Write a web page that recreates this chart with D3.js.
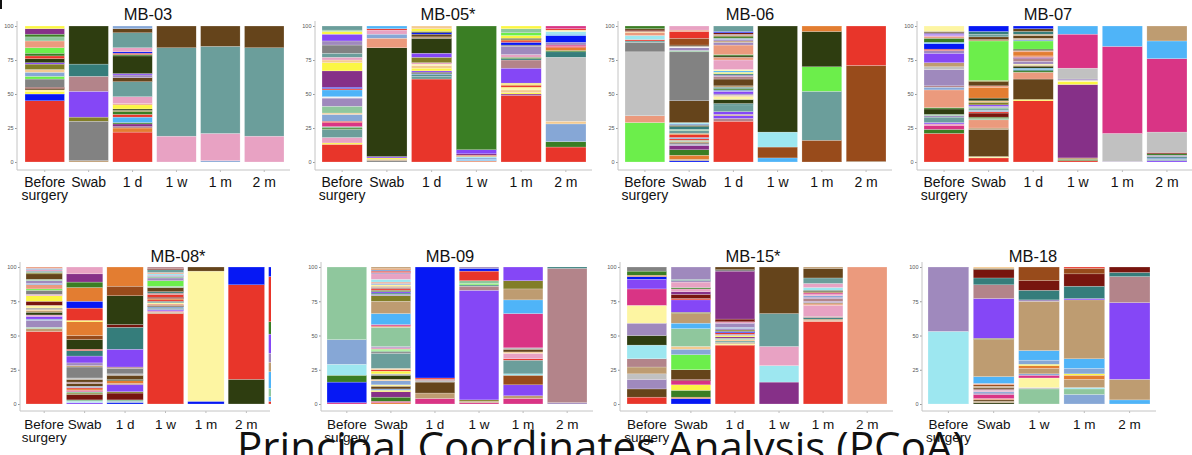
<!DOCTYPE html>
<html>
<head>
<meta charset="utf-8">
<script src="https://cdn.jsdelivr.net/npm/d3@7"></script>
<style>
  body { margin: 0; background: #fff; }
  svg { display: block; }
</style>
</head>
<body>
<div id="chart"></div>
<script>
// ---- data: each bar is "taxonColour upperBound, ..." from bottom (0) to top (100)
const titles = ["MB-03", "MB-05*", "MB-06", "MB-07", "MB-08*", "MB-09", "MB-15*", "MB-18"];
const yTicks = [0, 25, 50, 75, 100];
const cats = ["Before surgery", "Swab", "1 d", "1 w", "1 m", "2 m"];
const cats08 = ["Before surgery", "Swab", "1 d", "1 w", "1 m", "2 m", ""];
const cats18 = ["Before surgery", "Swab", "1 w", "1 m", "2 m"];

const mb03 = [
  "red 45, blue 50, yellow 52, paleyellow 53, brown 54, maroon 55, gray 61, lime 63, steel 66, peach 68, olive 72, purple 73, darkolive 76, red 78, green 80, lime 84, salmon 89, mint 92, green 94, plum 98, yellow 100",
  "tan 1, gray 30, olive 33, purple 52, mauve 63, darkteal 72, darkolive 100",
  "red 22, orange 25, mauve 26, plum 28, green 29, skyblue 33, red 35, green 37, olive 38, darkolive 39, yellow 42, salmon 43, pink 48, teal 59, brown 62, lavender 64, purple 65, darkolive 78, green 79, red 80, blue 81, pink 84, teal 95, brown 98, steel 100",
  "pink 19, teal 84, brown 100",
  "steel 1, pink 21, teal 85, brown 100",
  "pink 19, teal 84, brown 100"
];
const mb05 = [
  "red 13, yellow 14, pink 18, teal 24, green 25, mint 26, magenta 29, red 30, steel 35, peach 36, mint 41, lavender 47, white 48, skyblue 53, red 54, blue 55, plum 67, yellow 73, peach 75, pink 77, teal 80, gray 86, lavender 89, purple 94, yellow 96, mint 97, teal 100",
  "gray 1, tan 2, yellow 3, purple 4, darkolive 84, salmon 91, steel 94, pink 97, red 98, skyblue 100",
  "red 61, teal 63, darkteal 64, steel 65, darkolive 66, purple 67, yellow 69, peach 71, paleyellow 72, pink 73, olive 77, purple 80, darkolive 91, tan 92, brown 94, blue 95, darkolive 96, yellow 98, peach 100",
  "salmon 1, skyblue 2, steel 3, cyan 4, orange 5, plum 6, purple 9, green 100",
  "red 49, plum 50, yellow 51, peach 53, paleyellow 54, yellow 55, red 56, orange 57, yellow 58, purple 69, mauve 75, darkteal 76, green 77, pink 79, lavender 85, gray 86, blue 88, red 89, orange 90, darkolive 91, yellow 93, lime 95, mint 98, yellow 100",
  "red 11, green 15, steel 28, peach 30, lightgray 77, darkteal 81, green 82, orange 84, red 85, magenta 86, lavender 88, blue 93, skyblue 94, cyan 96, paleyellow 97, red 98, magenta 100"
];
const mb06 = [
  "lime 29, salmon 34, lightgray 81, gray 88, teal 89, red 90, cyan 93, salmon 95, peach 96, maroon 97, brown 98, green 100",
  "blue 1, tan 2, orange 5, green 9, plum 12, lavender 13, gray 14, tan 15, mint 16, red 17, steel 18, red 20, orange 21, teal 23, mint 24, darkteal 26, darkolive 27, steel 28, cyan 29, brown 45, gray 81, mint 82, lavender 84, white 85, brown 86, rust 91, red 96, salmon 97, pink 100",
  "red 30, mauve 32, purple 34, tan 35, purple 37, teal 42, darkteal 43, darkolive 46, paleyellow 48, peach 49, lavender 50, purple 52, steel 53, green 54, darkteal 55, tan 56, brown 61, mauve 63, lavender 64, darkteal 65, yellow 66, skyblue 67, paleyellow 68, pink 75, salmon 77, darkolive 78, green 79, salmon 86, lavender 88, tan 89, lavender 90, steel 91, green 92, olive 93, mauve 94, maroon 95, blue 96, teal 100",
  "skyblue 3, rust 11, cyan 22, darkolive 100",
  "rust 16, teal 52, lime 70, darkolive 96, orange 100",
  "brown 0.5, rust 71, red 100"
];
const mb07 = [
  "red 21, green 24, magenta 27, pink 28, purple 29, teal 33, lavender 34, mint 35, darkolive 39, green 40, salmon 53, steel 55, mauve 56, lavender 68, lightgray 70, tan 73, purple 80, lavender 82, red 83, blue 87, skyblue 88, green 91, salmon 92, pink 93, purple 94, lavender 95, brown 96, paleyellow 100",
  "red 3, paleyellow 4, brown 24, tan 25, salmon 31, mint 32, green 33, maroon 36, red 37, steel 38, teal 39, mint 40, lavender 41, purple 42, olive 44, peach 45, darkolive 47, orange 55, salmon 56, brown 59, olive 60, lime 89, tan 90, brown 92, teal 94, darkteal 96, blue 100",
  "red 45, yellow 46, brown 61, salmon 66, green 67, darkteal 68, skyblue 69, darkolive 70, brown 71, paleyellow 72, lavender 74, mauve 76, plum 77, salmon 78, orange 81, salmon 82, darkolive 83, lime 89, steel 90, tan 91, brown 93, tan 94, darkteal 96, brown 98, blue 100",
  "red 1, green 2, tan 3, plum 57, yellow 59, paleyellow 60, lavender 61, lightgray 69, magenta 94, skyblue 100",
  "lavender 0.5, lightgray 21, magenta 85, skyblue 100",
  "purple 1, teal 2, steel 3, darkteal 4, lavender 5, green 6, maroon 7, lightgray 22, magenta 76, skyblue 89, tan 100"
];
const mb08 = [
  "red 53, tan 55, mint 56, lavender 61, steel 62, purple 64, pink 65, darkolive 67, tan 68, peach 69, gray 70, paleyellow 72, maroon 75, yellow 79, pink 80, gray 83, lime 84, salmon 87, steel 88, lavender 90, mint 91, brown 95, olive 96, teal 97, pink 98, steel 99, salmon 100",
  "purple 1, cyan 2, mint 3, maroon 7, olive 8, mint 9, magenta 10, orange 11, red 12, steel 13, brown 15, mauve 16, brown 18, lightgray 19, gray 27, tan 28, lavender 30, purple 35, darkteal 39, red 40, darkolive 47, rust 50, orange 60, yellow 61, red 70, blue 75, orange 85, green 89, plum 95, pink 100",
  "blue 1, steel 2, mint 3, maroon 8, olive 9, purple 14, mauve 15, orange 17, darkolive 18, brown 21, lightgray 22, gray 26, mauve 27, purple 40, darkteal 56, maroon 58, darkolive 79, rust 86, orange 100",
  "red 66, tan 67, pink 68, purple 69, teal 70, steel 71, brown 72, salmon 73, paleyellow 74, darkteal 75, red 76, orange 77, maroon 78, red 80, mauve 81, darkteal 82, brown 85, mint 86, lime 90, lavender 92, mint 93, lavender 94, cyan 95, salmon 96, teal 98, maroon 99, mauve 100",
  "blue 2, paleyellow 97, brown 100",
  "darkolive 18, red 87, blue 100",
  "red 2, skyblue 5.5, mint 11.5, skyblue 23.5, tan 30.5, lavender 37, purple 51, green 60, red 93, blue 100"
];
const mb09 = [
  "magenta 1, blue 16, green 21, cyan 29, steel 47, mint 100",
  "orange 1, magenta 2, green 5, plum 9, yellow 10, steel 11, brown 13, paleyellow 14, steel 17, peach 18, darkolive 21, lightgray 22, yellow 24, red 25, peach 26, teal 37, gray 38, mint 39, lime 40, pink 41, lavender 42, mint 56, salmon 57, magenta 58, skyblue 66, tan 75, olive 79, lavender 80, darkteal 81, purple 82, green 83, red 84, mauve 85, tan 86, paleyellow 87, steel 88, salmon 89, cyan 91, pink 95, lavender 96, red 97, steel 98, orange 99, tan 100",
  "magenta 4, tan 8, brown 16, lightgray 17, mauve 18, red 19, blue 100",
  "magenta 1, tan 2, olive 3, purple 83, mauve 86, teal 87, lime 88, mint 90, red 97, blue 99, lavender 100",
  "magenta 4, tan 6, purple 14, rust 21, cyan 22, teal 32, red 33, pink 37, peach 38, brown 40, lightgray 41, magenta 66, skyblue 76, tan 84, olive 90, purple 100",
  "lavender 1, mauve 99, darkteal 100"
];
const mb15 = [
  "red 5, brown 11, lavender 18, lightgray 22, tan 27, mauve 33, cyan 43, darkolive 50, lavender 59, paleyellow 72, magenta 84, purple 91, blue 93, orange 94, green 97, gray 100",
  "blue 4, orange 5, green 10, yellow 14, magenta 17, maroon 18, brown 25, lime 36, steel 40, peach 42, mint 55, skyblue 59, tan 66, olive 67, purple 76, red 77, maroon 80, plum 82, pink 84, green 85, pink 89, lavender 90, teal 91, lavender 100",
  "red 43, paleyellow 44, tan 45, teal 46, peach 47, mint 48, plum 49, yellow 50, lavender 51, red 52, blue 53, olive 54, lavender 55, steel 56, lavender 59, pink 60, maroon 62, plum 97, gray 98, brown 100",
  "plum 16, cyan 28, pink 42, teal 66, brown 100",
  "red 60, salmon 61, tan 62, darkteal 63, mauve 64, pink 72, salmon 73, tan 74, lavender 75, mauve 77, lavender 78, steel 79, pink 80, magenta 81, tan 82, darkolive 83, cyan 85, pink 88, teal 92, brown 99, tan 100",
  "salmon 100"
];
const mb18 = [
  "cyan 53, lavender 100",
  "darkolive 1, tan 2, brown 3, salmon 4, magenta 7, lavender 8, steel 9, pink 10, mauve 11, brown 12, tan 13, rust 14, salmon 15, skyblue 20, tan 47, olive 48, purple 77, mauve 87, darkteal 92, maroon 98, brown 99, peach 100",
  "mint 11, lightgray 12, paleyellow 19, magenta 21, steel 22, tan 26, orange 28, yellow 29, steel 32, skyblue 39, tan 75, lavender 76, darkteal 83, maroon 90, rust 100",
  "steel 7, mint 11, cyan 12, tan 18, orange 21, yellow 22, steel 26, skyblue 33, tan 76, purple 77, darkteal 86, maroon 95, rust 99, red 100",
  "skyblue 3, tan 18, purple 74, mauve 93, darkteal 96, maroon 100"
];

const panelBars = [mb03, mb05, mb06, mb07, mb08, mb09, mb15, mb18];
const panelCats = [cats, cats, cats, cats, cats08, cats, cats, cats18];

// taxon colours
const colorKeys = ["red", "teal", "pink", "brown", "darkolive", "gray", "lightgray", "purple", "plum", "magenta",
  "blue", "skyblue", "cyan", "green", "lime", "salmon", "orange", "rust", "maroon", "darkteal",
  "mauve", "tan", "olive", "lavender", "yellow", "paleyellow", "mint", "steel", "peach", "white"];
const colorHex = ["#e8352a", "#6b9e9b", "#e8a2c3", "#65441b", "#2e3d10", "#828282", "#c1c1c1", "#8547f6", "#863088", "#d93485",
  "#0618f4", "#4fb4f8", "#9de7f0", "#3a7e24", "#6cee4b", "#eb9a7d", "#e37d31", "#984b1b", "#77150e", "#357d7b",
  "#b3848a", "#be9c71", "#827e27", "#9f89bd", "#fbf643", "#fdf5a2", "#8fc79d", "#86a7d6", "#f4ca90", "#f2f2f2"];
const color = d3.scaleOrdinal().domain(colorKeys).range(colorHex);

// ---- layout
const width = 1192, height = 455;
const rows = [
  { top: 26, bot: 162, axis: 170, title: 20, lab: 187, fs: 14 },
  { top: 267, bot: 404, axis: 411, title: 262, lab: 429, fs: 13.5 }
];
const layout = [
  { x0: 25, x1: 284, ax: 17, ar: 290, row: 0, tx: 148 },
  { x0: 322, x1: 586, ax: 315, ar: 592, row: 0, tx: 448 },
  { x0: 625, x1: 886, ax: 618, ar: 892, row: 0, tx: 750 },
  { x0: 924, x1: 1187, ax: 917, ar: 1192, row: 0, tx: 1048 },
  { x0: 26, x1: 305, ax: 20, ar: 270, row: 1, tx: 178, clip: 271 },
  { x0: 327, x1: 587, ax: 321, ar: 593, row: 1, tx: 450 },
  { x0: 627, x1: 887, ax: 620, ar: 893, row: 1, tx: 753 },
  { x0: 928, x1: 1150, ax: 922, ar: 1156, row: 1, tx: 1033 }
];

const svg = d3.select("#chart")
  .append("svg")
  .attr("width", width)
  .attr("height", height)
  .style("font-family", "'Liberation Sans', Arial, sans-serif");

// slide heading, cut by the bottom edge (drawn first so the labels sit on top)
svg.append("text")
  .attr("x", 237)
  .attr("y", 462)
  .attr("font-family", "'Open Sans', sans-serif")
  .attr("font-size", 42)
  .attr("fill", "#111")
  .attr("textLength", 728)
  .attr("lengthAdjust", "spacingAndGlyphs")
  .text("Principal Coordinates Analysis (PCoA)");

svg.append("rect").attr("x", 0).attr("y", 0).attr("width", 2).attr("height", 9).attr("fill", "#111");

panelBars.forEach(function(bars, i) {
  const L = layout[i], R = rows[L.row];
  const g = svg.append("g");

  const n = panelCats[i].length;
  const x = d3.scaleBand()
    .domain(d3.range(n))
    .range([L.x0, L.x1])
    .paddingInner(0.1)
    .paddingOuter(0);
  const y = d3.scaleLinear().domain([0, 100]).range([R.bot, R.top]);

  // stacked segments
  const segs = [];
  bars.forEach(function(s, j) {
    let prev = 0;
    s.split(",").forEach(function(t) {
      const p = t.trim().split(" ");
      const top = +p[1];
      segs.push({ bar: j, key: p[0], y0: prev, y1: top });
      prev = top;
    });
  });

  let barG = g.append("g");
  if (L.clip) {
    svg.append("clipPath").attr("id", "clip" + i)
      .append("rect").attr("x", 0).attr("y", 0).attr("width", L.clip).attr("height", height);
    barG.attr("clip-path", "url(#clip" + i + ")");
  }
  barG.selectAll("rect")
    .data(segs)
    .enter()
    .append("rect")
    .attr("x", d => x(d.bar))
    .attr("width", x.bandwidth())
    .attr("y", d => y(d.y1))
    .attr("height", d => y(d.y0) - y(d.y1))
    .attr("fill", d => color(d.key))
    .attr("stroke", "rgba(255,255,255,0.55)")
    .attr("stroke-width", 0.4);

  // Y axis
  const yAxis = g.append("g")
    .attr("transform", "translate(" + L.ax + ",0)")
    .call(d3.axisLeft(y).tickValues(yTicks).tickSize(2).tickPadding(1.5));
  yAxis.select(".domain").remove();
  yAxis.selectAll("line").attr("stroke", "#999");
  yAxis.selectAll("text").attr("font-size", 5.5).attr("fill", "#555").attr("font-family", "'Liberation Sans', Arial, sans-serif");
  g.append("line")
    .attr("x1", L.ax).attr("x2", L.ax)
    .attr("y1", R.top - 5).attr("y2", R.axis)
    .attr("stroke", "#c4c4c4").attr("stroke-width", 1);

  // X axis
  const xAxis = g.append("g")
    .attr("transform", "translate(0," + R.axis + ")")
    .call(d3.axisBottom(x).tickValues(d3.range(n).filter(k => panelCats[i][k] !== "")).tickSize(2).tickFormat(""));
  xAxis.select(".domain").remove();
  xAxis.selectAll("line").attr("stroke", "#bbb");
  g.append("line")
    .attr("x1", L.ax).attr("x2", L.ar)
    .attr("y1", R.axis).attr("y2", R.axis)
    .attr("stroke", "#c4c4c4").attr("stroke-width", 1);

  // category labels (two lines for "Before surgery")
  panelCats[i].forEach(function(c, k) {
    if (c === "") return;
    const words = c === "Before surgery" ? ["Before", "surgery"] : [c];
    words.forEach(function(w, li) {
      g.append("text")
        .attr("x", x(k) + x.bandwidth() / 2)
        .attr("y", R.lab + li * 13)
        .attr("text-anchor", "middle")
        .attr("font-size", R.fs)
        .attr("fill", "#111")
        .text(w);
    });
  });

  // panel title
  g.append("text")
    .attr("x", L.tx)
    .attr("y", R.title)
    .attr("text-anchor", "middle")
    .attr("font-size", 16.5)
    .attr("fill", "#111")
    .text(titles[i]);
});
</script>
</body>
</html>
